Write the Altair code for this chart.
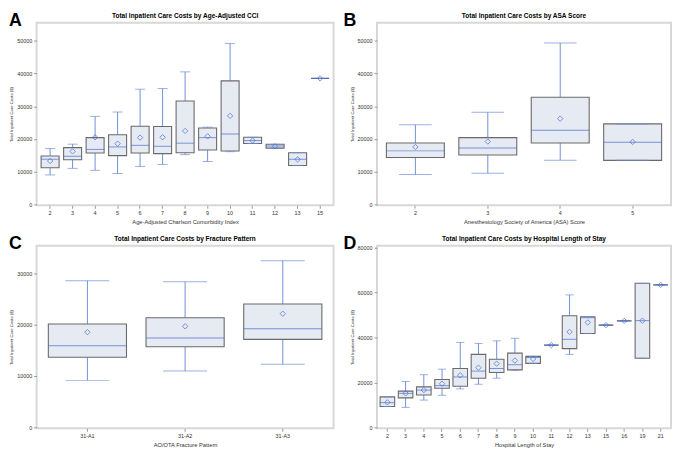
import altair as alt
import pandas as pd

# ---------------- Data ----------------
# Panel A: Age-adjusted CCI
A_cats = ["2", "3", "4", "5", "6", "7", "8", "9", "10", "11", "12", "13", "15"]
A_lo   = [9000, 11000, 10400, 9400, 11600, 12200, 15200, 13100, 16100, 18600, 17200, 11900, 38500]
A_q1   = [11200, 13650, 15700, 14900, 15700, 15500, 15800, 16600, 16300, 18600, 17200, 11900, 38500]
A_med  = [13800, 14700, 16800, 17550, 18050, 17750, 18700, 20400, 21500, 19500, 17850, 13800, 38500]
A_q3   = [14800, 17350, 20400, 21300, 23900, 23800, 31600, 23350, 37750, 20500, 18350, 15800, 38500]
A_hi   = [17050, 18400, 26900, 28200, 35200, 35400, 40500, 23600, 49200, 20500, 18350, 15800, 38500]
A_mean = [13250, 16200, 20500, 18550, 20400, 20500, 22450, 20800, 27050, 19500, 17750, 13750, 38500]

# Panel B: ASA score
B_cats = ["2", "3", "4", "5"]
B_lo   = [9100, 9500, 13500, 13450]
B_q1   = [14300, 15100, 18750, 13450]
B_med  = [16350, 17250, 22650, 19000]
B_q3   = [18750, 20400, 32750, 24600]
B_hi   = [24300, 28150, 49300, 24600]
B_mean = [17550, 19200, 26200, 19100]

# Panel C: AO/OTA fracture pattern
C_cats = ["31-A1", "31-A2", "31-A3"]
C_lo   = [9150, 11000, 12300]
C_q1   = [13650, 15700, 17150]
C_med  = [15900, 17400, 19200]
C_q3   = [20150, 21350, 24050]
C_hi   = [28600, 28400, 32500]
C_mean = [18550, 19700, 22150]

# Panel D: hospital length of stay
D_cats = ["2", "3", "4", "5", "6", "7", "8", "9", "10", "11", "12", "13", "15", "16", "19", "21"]
D_lo   = [9300, 8900, 12150, 14300, 17150, 19200, 21900, 25350, 28500, 36600, 32500, 41800, 45500, 47400, 30800, 63400]
D_q1   = [9300, 13150, 14450, 17450, 18300, 21900, 24450, 25600, 28500, 36600, 35050, 41800, 45500, 47400, 30800, 63400]
D_med  = [11000, 15150, 16600, 18600, 22450, 25050, 26200, 27900, 31100, 36600, 39200, 48800, 45500, 47400, 47500, 63400]
D_q3   = [13600, 16150, 18050, 21300, 26200, 32500, 30350, 33050, 31600, 36600, 49650, 49200, 45500, 47400, 64100, 63400]
D_hi   = [13600, 20450, 23450, 25900, 37800, 37350, 38500, 39650, 31600, 36600, 58950, 49200, 45500, 47400, 64100, 63400]
D_mean = [11150, 15150, 16600, 19450, 23200, 26600, 28350, 29750, 30450, 36600, 42500, 46700, 45500, 47400, 47500, 63400]

# ---------------- Styling ----------------
FONT = "Liberation Sans"
BLUE = "#6f8fd6"
BLUE_D = "#4a6bcb"
GRAY = "#6a6a6a"
FILL = "#e6eaf3"
YTITLE = "Total Inpatient Care Costs ($)"


def panel(letter, title, xtitle, cats, lo, q1, med, q3, hi, mean,
          ydom, yticks, width, height, pad_outer, letter_dx):
    df = pd.DataFrame(dict(cat=cats, lo=lo, q1=q1, med=med, q3=q3, hi=hi, mean=mean))
    n = len(cats)
    step = width / (n - 0.2 + 2 * pad_outer)
    boxw = 0.8 * step
    capw = 0.45 * step

    xenc = alt.X(
        "cat:N", sort=cats,
        scale=alt.Scale(paddingInner=0.2, paddingOuter=pad_outer),
        axis=alt.Axis(title=xtitle, labelAngle=0, labelFontSize=5.5, labelColor="#333333",
                      titleFontSize=5.8, titleFontWeight="normal", titleColor="#333333",
                      titlePadding=3, labelPadding=2, tickSize=3, tickColor="#999999",
                      domain=False, grid=False, labelOverlap=False),
    )
    yscale = alt.Scale(domain=ydom, nice=False, zero=False)
    yax = alt.Axis(title=YTITLE, values=yticks, format="d", labelFontSize=5.5,
                   labelColor="#333333", titleFontSize=4.3, titleFontWeight="normal",
                   titleColor="#333333", titlePadding=3, labelPadding=2, tickSize=3,
                   tickColor="#999999", domain=False, grid=False, labelOverlap=False,
                   labelFlush=False)

    def Y(f):
        return alt.Y(f, scale=yscale, axis=yax)

    base = alt.Chart(df)
    w_lo = base.mark_rule(color=BLUE, strokeWidth=1).encode(x=xenc, y=Y("lo:Q"), y2="q1:Q")
    w_hi = base.mark_rule(color=BLUE, strokeWidth=1).encode(x=xenc, y=Y("q3:Q"), y2="hi:Q")
    box = base.mark_bar(fill=FILL, stroke=GRAY, strokeWidth=1.1).encode(
        x=xenc, y=Y("q1:Q"), y2="q3:Q")
    c_lo = base.mark_tick(color=BLUE, size=capw, thickness=1).encode(x=xenc, y=Y("lo:Q"))
    c_hi = base.mark_tick(color=BLUE, size=capw, thickness=1).encode(x=xenc, y=Y("hi:Q"))
    m_line = base.mark_tick(color=BLUE_D, size=boxw, thickness=1).encode(x=xenc, y=Y("med:Q"))
    m_pt = base.mark_point(shape="diamond", filled=False, color=BLUE_D, size=30,
                           strokeWidth=1).encode(x=xenc, y=Y("mean:Q"))
    lab = alt.Chart(pd.DataFrame({"t": [letter]})).mark_text(
        align="left", baseline="top", fontSize=18, fontWeight="bold", color="black", font=FONT
    ).encode(x=alt.value(letter_dx), y=alt.value(-11), text="t:N")
    ttl = alt.Chart(pd.DataFrame({"t": [title]})).mark_text(
        align="center", baseline="bottom", fontSize=6.6, fontWeight="bold", color="black", font=FONT
    ).encode(x=alt.value(width / 2), y=alt.value(-4), text="t:N")

    return alt.layer(w_lo, w_hi, box, c_lo, c_hi, m_line, m_pt, lab, ttl).properties(
        width=width, height=height,
    )


W1, W2, H = 301, 298, 185
ticksAB = [0, 10000, 20000, 30000, 40000, 50000]

pA = panel("A", "Total Inpatient Care Costs by Age-Adjusted CCI",
           "Age-Adjusted Charlson Comorbidity Index",
           A_cats, A_lo, A_q1, A_med, A_q3, A_hi, A_mean,
           [-300, 55500], ticksAB, W1, H, 0.2, -28)
pB = panel("B", "Total Inpatient Care Costs by ASA Score",
           "Anesthesiology Society of America (ASA) Score",
           B_cats, B_lo, B_q1, B_med, B_q3, B_hi, B_mean,
           [-300, 55500], ticksAB, W2, H, 0.13, -34)
pC = panel("C", "Total Inpatient Care Costs by Fracture Pattern",
           "AO/OTA Fracture Pattern",
           C_cats, C_lo, C_q1, C_med, C_q3, C_hi, C_mean,
           [-200, 35400], [0, 10000, 20000, 30000], W1, H, 0.12, -28)
pD = panel("D", "Total Inpatient Care Costs by Hospital Length of Stay",
           "Hospital Length of Stay",
           D_cats, D_lo, D_q1, D_med, D_q3, D_hi, D_mean,
           [-400, 80800], [0, 20000, 40000, 60000, 80000], W2, H, 0.17, -34)

chart = alt.vconcat(
    alt.hconcat(pA, pB, spacing=8),
    alt.hconcat(pC, pD, spacing=8),
    spacing=8,
    padding=0,
).configure(font=FONT).configure_axis(labelOverlap=False).configure_view(
    stroke="#d8d8d8", strokeWidth=2)

chart.save("out.html", embed_options={"renderer": "svg", "actions": False})
